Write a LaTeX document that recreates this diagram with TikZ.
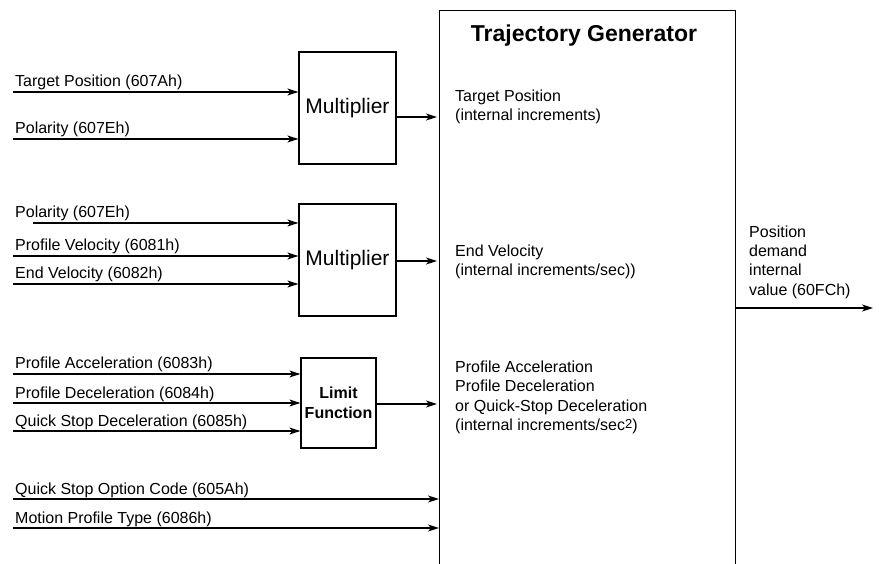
\documentclass[tikz,border=0pt]{standalone}
\usepackage{fontspec}
\setmainfont{Liberation Sans}
\usetikzlibrary{arrows.meta,positioning,calc}

\tikzset{
  blockbox/.style={draw, line width=1.2pt, inner sep=0pt, align=center},
  sigarrow/.style={line width=1.2pt, -{Stealth[length=11pt,width=7pt,inset=3pt]}},
  siglabel/.style={anchor=base west, inner sep=0pt, align=left, font=\fontsize{16}{19.5}\selectfont},
}

\begin{document}
\begin{tikzpicture}[x=1pt,y=-1pt]
  \useasboundingbox (0,0) rectangle (879,564);

  % Trajectory Generator
  \node[blockbox, anchor=north west, minimum width=296pt, minimum height=600pt] (traj) at (439,10) {};
  \node[font=\bfseries\fontsize{23}{27}\selectfont, anchor=base, inner sep=0pt] (trajtitle) at (584,42) {Trajectory Generator};

  % Multiplier 1: target position
  \node[blockbox, minimum width=97pt, minimum height=112pt, font=\fontsize{21}{25}\selectfont] (mult1) at (347.5,108) {Multiplier};
  \coordinate (tpin) at (13,92);
  \coordinate (pol1in) at (13,139);
  \draw[sigarrow] (tpin) -- (tpin -| mult1.west);
  \draw[sigarrow] (pol1in) -- (pol1in -| mult1.west);
  \node[siglabel] (tplabel) at ($(tpin)+(2,-5)$) {Target Position (607Ah)};
  \node[siglabel] (pol1label) at ($(pol1in)+(2,-5)$) {Polarity (607Eh)};
  \draw[sigarrow, shorten >=2pt] ($(mult1.east)+(0,9)$) -- ($(traj.west |- mult1.east)+(0,9)$);
  \node[siglabel] (tpint) at (455,121) {Target Position\\(internal increments)};

  % Multiplier 2: end velocity
  \node[blockbox, minimum width=97pt, minimum height=112pt, font=\fontsize{21}{25}\selectfont] (mult2) at (347.5,260) {Multiplier};
  \coordinate (pol2in) at (33,223);
  \coordinate (pvin) at (13,256);
  \coordinate (evin) at (13,284);
  \draw[sigarrow] (pol2in) -- (pol2in -| mult2.west);
  \draw[sigarrow] (pvin) -- (pvin -| mult2.west);
  \draw[sigarrow] (evin) -- (evin -| mult2.west);
  \node[siglabel] (pol2label) at (15,218) {Polarity (607Eh)};
  \node[siglabel] (pvlabel) at ($(pvin)+(2,-5)$) {Profile Velocity (6081h)};
  \node[siglabel] (evlabel) at ($(evin)+(2,-5)$) {End Velocity (6082h)};
  \draw[sigarrow, shorten >=2pt] ($(mult2.east)+(0,1)$) -- ($(traj.west |- mult2.east)+(0,1)$);
  \node[siglabel] (evint) at (455,276) {End Velocity\\(internal increments/sec))};

  % Limit function: acceleration
  \node[blockbox, minimum width=75pt, minimum height=90pt, font=\bfseries\fontsize{16}{20}\selectfont] (limfn) at (338.5,403) {Limit\\Function};
  \coordinate (pain) at (13,374);
  \coordinate (pdin) at (13,403);
  \coordinate (qsdin) at (13,431);
  \draw[sigarrow] (pain) -- (pain -| limfn.west);
  \draw[sigarrow] (pdin) -- (pdin -| limfn.west);
  \draw[sigarrow] (qsdin) -- (qsdin -| limfn.west);
  \node[siglabel] (palabel) at ($(pain)+(2,-5)$) {Profile Acceleration (6083h)};
  \node[siglabel] (pdlabel) at ($(pdin)+(2,-5)$) {Profile Deceleration (6084h)};
  \node[siglabel] (qsdlabel) at ($(qsdin)+(2,-5)$) {Quick Stop Deceleration (6085h)};
  \draw[sigarrow, shorten >=2pt] ($(limfn.east)+(0,1)$) -- ($(traj.west |- limfn.east)+(0,1)$);
  \node[siglabel] (accint) at (455,430.5) {Profile Acceleration\\Profile Deceleration\\or Quick-Stop Deceleration\\(internal increments/sec\raisebox{2pt}{\fontsize{13}{15}\selectfont 2})};

  % Direct inputs
  \coordinate (qsoin) at (13,499);
  \coordinate (mptin) at (13,528);
  \draw[sigarrow] (qsoin) -- (qsoin -| traj.west);
  \draw[sigarrow] (mptin) -- (mptin -| traj.west);
  \node[siglabel] (qsolabel) at ($(qsoin)+(2,-5)$) {Quick Stop Option Code (605Ah)};
  \node[siglabel] (mptlabel) at ($(mptin)+(2,-5)$) {Motion Profile Type (6086h)};

  % Output
  \coordinate (posend) at (873,308);
  \draw[sigarrow] (traj.east |- posend) -- (posend);
  \node[siglabel] (posout) at (749,295.5) {Position\\demand\\internal\\value (60FCh)};
\end{tikzpicture}
\end{document}
